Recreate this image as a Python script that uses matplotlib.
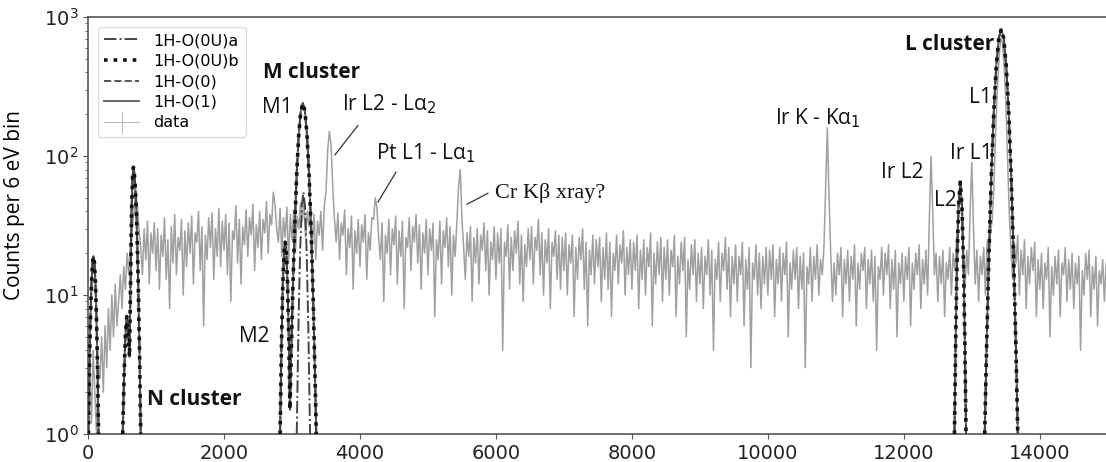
import numpy as np
import matplotlib.pyplot as plt
from matplotlib.lines import Line2D

data_y = [
    1.5, 3, 1.2, 4, 2, 1, 3, 2.5, 5, 2, 6, 3, 8, 4, 10, 5, 12, 6, 9, 14,
    8, 16, 11, 20, 14, 24, 30, 40, 55, 45, 30, 22, 14, 30, 18, 34, 12, 28, 20, 33,
    15, 30, 11, 27, 19, 36, 13, 25, 8, 31, 17, 38, 14, 26, 21, 35, 10, 29, 16, 33,
    20, 37, 12, 28, 24, 40, 15, 31, 6, 27, 18, 36, 22, 39, 13, 30, 19, 42, 16, 34,
    21, 38, 14, 33, 9, 29, 25, 44, 17, 35, 12, 31, 23, 41, 19, 36, 27, 45, 15, 32,
    22, 40, 18, 35, 28, 47, 20, 38, 32, 55, 45, 30, 24, 42, 19, 36, 26, 43, 17, 38,
    25, 41, 20, 37, 30, 46, 34, 48, 26, 40, 31, 45, 22, 38, 18, 34, 27, 40, 21, 44,
    55, 110, 150, 120, 60, 35, 24, 39, 18, 33, 27, 41, 14, 30, 22, 37, 11, 29, 20, 35,
    16, 32, 24, 38, 13, 28, 21, 36, 35, 50, 42, 26, 18, 33, 9, 27, 20, 35, 14, 30,
    23, 37, 12, 29, 19, 34, 8, 26, 22, 36, 15, 31, 24, 38, 17, 32, 11, 28, 20, 35,
    14, 30, 21, 33, 7, 25, 18, 34, 12, 29, 22, 36, 16, 31, 10, 27, 19, 33, 60, 80,
    35, 22, 13, 28, 19, 31, 9, 26, 17, 30, 12, 27, 21, 33, 15, 29, 10, 24, 18, 31,
    13, 28, 17, 30, 4, 24, 19, 32, 11, 26, 15, 29, 20, 34, 12, 27, 9, 23, 16, 30,
    18, 31, 12, 26, 21, 35, 14, 28, 10, 25, 17, 30, 8, 24, 19, 29, 13, 27, 11, 26,
    15, 28, 10, 23, 17, 27, 7, 22, 13, 26, 18, 30, 11, 24, 6, 21, 14, 27, 12, 25,
    16, 26, 9, 22, 13, 28, 11, 24, 7, 20, 15, 27, 12, 23, 17, 29, 10, 22, 14, 25,
    11, 24, 15, 27, 8, 21, 13, 25, 10, 22, 16, 28, 6, 20, 12, 24, 14, 26, 9, 22,
    13, 25, 10, 21, 16, 27, 7, 19, 12, 24, 15, 26, 5, 18, 11, 23, 14, 25, 9, 20,
    12, 22, 8, 19, 14, 25, 10, 21, 4, 18, 13, 24, 9, 20, 15, 26, 11, 22, 7, 19,
    12, 23, 9, 19, 14, 24, 6, 18, 11, 22, 3, 17, 13, 23, 10, 20, 8, 19, 12, 22,
    10, 21, 13, 23, 7, 18, 12, 22, 9, 20, 14, 24, 5, 17, 11, 21, 13, 22, 8, 19,
    11, 20, 3, 16, 12, 22, 9, 19, 13, 23, 10, 18, 14, 22, 60, 160, 50, 20, 9, 17,
    10, 20, 14, 22, 7, 18, 12, 21, 9, 19, 13, 23, 6, 17, 11, 20, 15, 22, 8, 18,
    12, 21, 9, 19, 4, 16, 13, 22, 10, 20, 14, 23, 8, 18, 11, 21, 5, 17, 12, 20,
    9, 19, 13, 22, 6, 17, 11, 20, 14, 23, 8, 18, 12, 21, 10, 35, 100, 40, 14, 20,
    9, 19, 12, 21, 7, 17, 13, 22, 10, 20, 15, 25, 40, 60, 45, 20, 11, 21, 14, 40,
    90, 30, 12, 21, 9, 19, 14, 22, 10, 24, 18, 28, 35, 60, 150, 300, 500, 700, 650, 450,
    250, 100, 40, 22, 13, 24, 17, 27, 10, 21, 14, 25, 8, 19, 12, 22, 15, 24, 7, 18,
    11, 20, 8, 17, 13, 22, 5, 16, 10, 19, 12, 21, 7, 17, 14, 22, 9, 18, 11, 20,
    8, 17, 12, 19, 4, 15, 10, 20, 13, 21, 7, 16, 11, 19, 6, 15, 12, 18, 9, 17,
]
data_x = np.arange(len(data_y)) * 25

# model curves, points read per cluster
n_x = [5, 20, 35, 50, 65, 80, 95, 110, 125, 140, 155]
n_y = [1.0, 2.9, 6.6, 11.9, 16.9, 19, 16.9, 11.9, 6.6, 2.9, 1.0]
n2_x = [510, 530, 550, 570, 590, 610, 625, 640, 655, 667, 680, 695, 710, 725, 740, 757, 775]
n2_y = [1, 2.6, 5.2, 7, 5, 3.6, 12, 40, 70, 83, 76, 60, 41, 23, 11, 4, 1]
m_x = [2825, 2845, 2865, 2885, 2900, 2915, 2935, 2955, 2970, 2990, 3010, 3040,
       3070, 3100, 3130, 3160, 3190, 3220, 3250, 3280, 3310, 3330, 3350, 3357]
m_y = [1, 4.3, 12, 21, 24, 21, 12, 4.3, 1.5, 4.0, 10, 31,
       76, 144, 211, 240, 211, 144, 76, 31, 10, 4.0, 1.47, 1]
m1a_x = [3070, 3095, 3120, 3145, 3168, 3190, 3215, 3240, 3266]
m1a_y = [1, 6, 21, 44, 55, 44, 21, 6, 1]
l2_x = [12745, 12762, 12779, 12805, 12830, 12855, 12881, 12898, 12915]
l2_y = [1, 4.5, 14.4, 44, 65, 44, 14.4, 4.5, 1]
l1_x = [13190, 13214, 13251, 13287, 13324, 13360, 13397, 13433,
        13469, 13506, 13542, 13579, 13615, 13652, 13676]
l1_y = [1, 3.6, 18.8, 73, 211, 449, 705, 820, 705, 449, 211, 73, 18.8, 3.6, 1]


def join(*parts):
    out = []
    for p in parts:
        out += list(p) + [np.nan]
    return np.array(out[:-1], dtype=float)


model_x = join(n_x, n2_x, m_x, l2_x, l1_x)
model_y = join(n_y, n2_y, m_y, l2_y, l1_y)
model_a_x = join(n_x, n2_x, m_x, m1a_x, l2_x, l1_x)
model_a_y = join(n_y, n2_y, m_y, m1a_y, l2_y, l1_y)

fig = plt.figure(figsize=(11.06, 4.62), dpi=100)
ax = fig.add_axes([0.0796, 0.0606, 0.922, 0.9024])

ax.plot(data_x, data_y, color='#a0a0a0', lw=1.1, zorder=1)
ax.plot(model_x, model_y, color='#666666', lw=1.4, ls='-', zorder=2)
ax.plot(model_x, model_y, color='#555555', lw=1.4, ls='--', zorder=3)
ax.plot(model_a_x, model_a_y, color='#444444', lw=1.4, ls='-.', zorder=4)
ax.plot(model_x, model_y, color='#111111', lw=2.6, ls=':', zorder=5)

ax.set_yscale('log')
ax.set_xlim(0, 15000)
ax.set_ylim(1, 1000)
ax.set_xticks([0, 2000, 4000, 6000, 8000, 10000, 12000, 14000])
ax.tick_params(labelsize=14, colors='#222222')
ax.tick_params(which='both', color='#555555')
ax.set_ylabel('Counts per 6 eV bin', fontsize=15, family='Open Sans')
ax.yaxis.set_label_coords(-0.062, 0.55)
for s in ['left', 'bottom', 'top']:
    ax.spines[s].set_color('#555555')
    ax.spines[s].set_linewidth(1.2)
ax.spines['right'].set_visible(False)

handles = [
    Line2D([], [], color='#444444', lw=1.4, ls='-.'),
    Line2D([], [], color='#111111', lw=2.6, ls=':'),
    Line2D([], [], color='#555555', lw=1.4, ls='--'),
    Line2D([], [], color='#666666', lw=1.4, ls='-'),
    Line2D([], [], color='#bbbbbb', lw=0.8, marker='|', markersize=16, mew=0.8),
]
labels = ['1H-O(0U)a', '1H-O(0U)b', '1H-O(0)', '1H-O(1)', 'data']
leg = ax.legend(handles, labels, loc='upper left', fontsize=11.5, handlelength=2.2,
                handletextpad=0.9, labelspacing=0.35, framealpha=1,
                edgecolor='#dddddd', borderaxespad=0.6)

lab = dict(family='Open Sans', fontsize=15, color='#111111', va='center')
bold = dict(family='Open Sans', fontsize=15, color='#111111', va='center', weight='bold')

ax.text(2574, 402, 'M cluster', ha='left', **bold)
ax.text(2560, 225, 'M1', ha='left', **lab)
ax.text(3740, 237, 'Ir L2 - Lα$_2$', ha='left', **lab)
ax.plot([3632, 3970], [102, 166], color='#333333', lw=0.9)
ax.text(4235, 105, 'Pt L1 - Lα$_1$', ha='left', **lab)
ax.plot([4265, 4529], [46.7, 76.6], color='#333333', lw=0.9)
ax.text(5990, 54, 'Cr Kβ xray?', ha='left', va='center', family='Liberation Serif',
        fontsize=16, color='#111111')
ax.plot([5574, 5882], [45, 54], color='#333333', lw=0.9)
ax.text(10100, 188, 'Ir K - Kα$_1$', ha='left', **lab)
ax.text(13330, 640, 'L cluster', ha='right', **bold)
ax.text(13300, 266, 'L1', ha='right', **lab)
ax.text(13300, 105, 'Ir L1', ha='right', **lab)
ax.text(12290, 76, 'Ir L2', ha='right', **lab)
ax.text(12780, 48, 'L2', ha='right', **lab)
ax.text(2220, 5.0, 'M2', ha='left', **lab)
ax.text(870, 1.76, 'N cluster', ha='left', **bold)

fig.savefig('out.png', dpi=100)
